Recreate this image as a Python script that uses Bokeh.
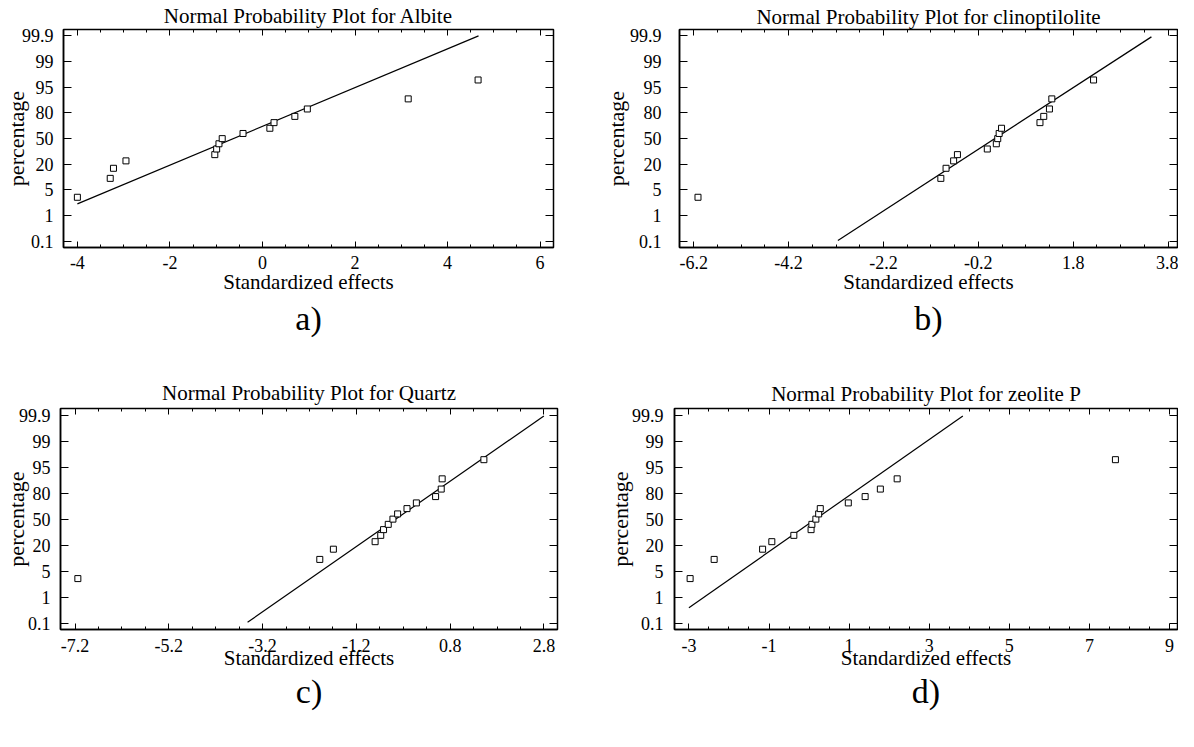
from statistics import NormalDist
import numpy as np
from bokeh.plotting import figure
from bokeh.layouts import row, column
from bokeh.models import FixedTicker, LinearAxis, Title, Range1d
from bokeh.embed import file_html
from bokeh.resources import INLINE

FONT = "Liberation Serif"

# ---------------- data ----------------
prob_tick_values = [0.1, 1, 5, 20, 50, 80, 95, 99, 99.9]
prob_tick_labels = ["0.1", "1", "5", "20", "50", "80", "95", "99", "99.9"]

# plotting positions (percentage) of the 15 ranked effects
plot_percent = [3.3, 10.0, 16.7, 23.3, 30.0, 36.7, 43.3, 50.0,
                56.7, 63.3, 70.0, 76.7, 83.3, 90.0, 96.7]

albite_effects = [-4.00, -3.29, -3.22, -2.95, -1.03, -0.99, -0.94, -0.87,
                  -0.42, 0.16, 0.25, 0.70, 0.97, 3.15, 4.66]
albite_line_x = [-4.00, 4.67]
albite_line_pct = [2.2, 99.9]
albite_xticks = [-4, -2, 0, 2, 4, 6]
albite_xlabels = ["-4", "-2", "0", "2", "4", "6"]

clino_effects = [-6.11, -0.99, -0.88, -0.72, -0.64, -0.01, 0.18, 0.21,
                 0.24, 0.29, 1.10, 1.18, 1.30, 1.35, 2.23]
clino_line_x = [-3.16, 3.45]
clino_line_pct = [0.11, 99.89]
clino_xticks = [-6.2, -4.2, -2.2, -0.2, 1.8, 3.8]
clino_xlabels = ["-6.2", "-4.2", "-2.2", "-0.2", "1.8", "3.8"]

quartz_effects = [-7.14, -1.98, -1.69, -0.80, -0.68, -0.62, -0.52, -0.42,
                  -0.32, -0.12, 0.08, 0.49, 0.61, 0.63, 1.52]
quartz_line_x = [-3.52, 2.80]
quartz_line_pct = [0.11, 99.89]
quartz_xticks = [-7.2, -5.2, -3.2, -1.2, 0.8, 2.8]
quartz_xlabels = ["-7.2", "-5.2", "-3.2", "-1.2", "0.8", "2.8"]

zeolite_effects = [-2.97, -2.37, -1.16, -0.93, -0.38, 0.05, 0.07, 0.17,
                   0.24, 0.28, 0.98, 1.40, 1.78, 2.20, 7.65]
zeolite_line_x = [-3.00, 3.84]
zeolite_line_pct = [0.42, 99.89]
zeolite_xticks = [-3, -1, 1, 3, 5, 7, 9]
zeolite_xlabels = ["-3", "-1", "1", "3", "5", "7", "9"]

# ---------------- probability scale ----------------
_nd = NormalDist()
_tick_z = np.array([_nd.inv_cdf(v / 100.0) for v in prob_tick_values])
_tick_pos = np.arange(len(prob_tick_values), dtype=float)


def prob_scale(pcts):
    z = np.array([_nd.inv_cdf(v / 100.0) for v in pcts])
    return np.interp(z, _tick_z, _tick_pos)


def minor_ticks(major, step=0.5):
    lo, hi = major[0] - 2.0, major[-1] + 2.0
    vals = [round(float(v), 4) for v in np.arange(lo, hi + 1e-9, step)]
    return [v for v in vals if all(abs(v - m) > 1e-6 for m in major)]


def mirror_axis(ticks, length):
    # label-free axis: only (minor) tick marks, no texts
    return LinearAxis(ticker=FixedTicker(ticks=[], minor_ticks=list(ticks)),
                      major_label_standoff=0, major_tick_in=0, major_tick_out=0,
                      minor_tick_in=length, minor_tick_out=0,
                      axis_line_color=None, minor_tick_line_color="black")


def panel(name, effects, line_x, line_pct, xticks, xlabels, xrange, letter, g):
    p = figure(width=g["w"], height=g["h"], output_backend="svg", toolbar_location=None,
               x_range=Range1d(*xrange), y_range=Range1d(-0.24, 8.25),
               min_border_left=g["bl"], min_border_right=g["br"],
               min_border_top=g["bt"], min_border_bottom=g["bb"],
               title="Normal Probability Plot for " + name)
    p.title.align = "center"
    p.title.text_font = FONT
    p.title.text_font_size = "21px"
    p.title.text_font_style = "normal"
    p.title.text_color = "black"
    p.title.standoff = g["ts"]
    p.grid.visible = False
    p.outline_line_color = "black"
    p.outline_line_width = 1.5
    p.background_fill_color = "white"
    p.border_fill_color = "white"

    yt = list(range(len(prob_tick_values)))
    ylab = dict(zip(yt, prob_tick_labels))
    xlab = dict(zip(xticks, xlabels))
    mn = minor_ticks(xticks)

    xa = p.xaxis[0]
    xa.ticker = FixedTicker(ticks=xticks, minor_ticks=mn)
    xa.major_label_overrides = xlab
    xa.axis_label = "Standardized effects"
    xa.axis_label_standoff = g["xals"]
    xa.major_label_standoff = g["xs1"]

    ya = p.yaxis[0]
    ya.ticker = FixedTicker(ticks=yt)
    ya.major_label_overrides = ylab
    ya.axis_label = "percentage"
    ya.axis_label_standoff = g["yals"]
    ya.major_label_standoff = g["ys1"]

    for ax in (xa, ya):
        ax.axis_label_text_font = FONT
        ax.axis_label_text_font_style = "normal"
        ax.axis_label_text_color = "black"
        ax.major_label_text_font = FONT
        ax.major_label_text_font_size = "18px"
        ax.major_label_text_color = "black"
        ax.axis_line_color = "black"
        ax.axis_line_width = 1.5
        ax.major_tick_line_color = "black"
        ax.minor_tick_line_color = "black"
        ax.major_tick_out = 0
        ax.minor_tick_out = 0
    xa.axis_label_text_font_size = "21px"
    ya.axis_label_text_font_size = "22px"
    xa.major_tick_in = 6
    xa.minor_tick_in = 3
    ya.major_tick_in = 8
    ya.minor_tick_in = 0

    p.add_layout(mirror_axis(xticks, 6), "above")
    p.add_layout(mirror_axis(mn, 3), "above")
    p.add_layout(mirror_axis(yt, 8), "right")

    p.line(line_x, prob_scale(line_pct), line_color="black", line_width=1.2)
    p.scatter(effects, prob_scale(plot_percent), marker="square", size=6,
              fill_color="white", line_color="black", line_width=1)

    lt = Title(text=letter, align="center", text_font=FONT, text_font_size="34px",
               text_font_style="normal", text_color="black",
               standoff=g["ls"], offset=g["loff"])
    p.add_layout(lt, "below")
    return p


ga = dict(w=590, h=365, bl=57, br=37, bt=27, bb=118, ts=3, ys1=10, yals=-10,
          xs1=8, xals=-2, ls=2, loff=-13)
gb = dict(w=588, h=365, bl=89, br=1, bt=26, bb=117, ts=2, ys1=18, yals=-2,
          xs1=8, xals=-2, ls=2, loff=-19)
gc = dict(w=590, h=366, bl=54, br=33, bt=43, bb=101, ts=7, ys1=10, yals=-13,
          xs1=9, xals=-9, ls=-3, loff=-12)
gd = dict(w=588, h=366, bl=84, br=1, bt=39, bb=102, ts=5, ys1=11, yals=-4,
          xs1=9, xals=-9, ls=-3, loff=-20)

pa = panel("Albite", albite_effects, albite_line_x, albite_line_pct,
           albite_xticks, albite_xlabels, (-4.30, 6.29), "a)", ga)
pb = panel("clinoptilolite", clino_effects, clino_line_x, clino_line_pct,
           clino_xticks, clino_xlabels, (-6.50, 4.00), "b)", gb)
pc = panel("Quartz", quartz_effects, quartz_line_x, quartz_line_pct,
           quartz_xticks, quartz_xlabels, (-7.51, 3.09), "c)", gc)
pd = panel("zeolite P", zeolite_effects, zeolite_line_x, zeolite_line_pct,
           zeolite_xticks, zeolite_xlabels, (-3.36, 9.20), "d)", gd)

layout = column(row(pa, pb), row(pc, pd))
open("out.html", "w").write(file_html(layout, INLINE))
